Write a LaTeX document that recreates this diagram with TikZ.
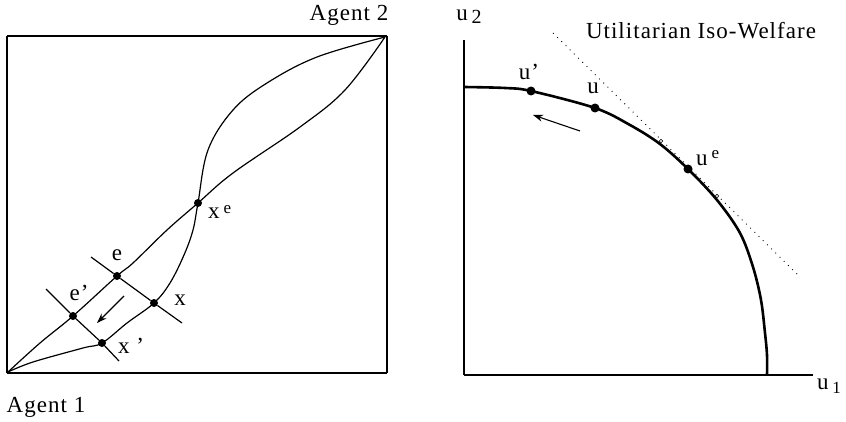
\documentclass[tikz,border=0pt]{standalone}
\usepackage{fontspec}
\setmainfont{Liberation Serif}[LetterSpace=4.5]
\usetikzlibrary{arrows.meta}
\begin{document}
\begin{tikzpicture}[x=1pt,y=-1pt,
  lbl/.style={inner sep=0pt,font=\fontsize{23}{26}\selectfont},
  dotnode/.style={circle,fill=black,inner sep=0pt,minimum size=8pt},
  bigdot/.style={circle,fill=black,inner sep=0pt,minimum size=9pt},
  opendot/.style={circle,draw=black,fill=white,inner sep=0pt,minimum size=3.5pt,line width=0.6pt},
  curve/.style={line width=1.2pt},
  frontier/.style={line width=2.6pt},
  arr/.style={line width=1.1pt,-{Stealth[length=10pt,width=7pt]}}]
\useasboundingbox (0,0) rectangle (846,422);

% ---------- left panel: Edgeworth box ----------
\draw[line width=1.1pt] (7,36) -- (7,373);
\draw[line width=1.1pt] (387,36) -- (387,373);
\draw[line width=2.2pt] (7,36) -- (387,36);
\draw[line width=2.2pt] (7,373) -- (387,373);

\coordinate (o1) at (8,372);
\coordinate (o2) at (385,37);
\node[dotnode] (ep) at (73,316) {};
\node[dotnode] (e) at (117,276) {};
\node[dotnode] (xe) at (198,203) {};
\node[dotnode] (xp) at (102,343) {};
\node[dotnode] (x) at (154,303) {};

% curve A (through e', e)
\draw[curve] plot[smooth,tension=0.6] coordinates
  {(o1) (40,343) (ep) (e) (133,263) (167,230) (xe) (233,173) (300,127) (345,90) (o2)};
% curve B (through x', x)
\draw[curve] plot[smooth,tension=0.6] coordinates
  {(o1) (33,362) (83,348) (xp) (127,323) (x) (170,283) (184,255) (193,230) (xe) (208,150) (233,110) (267,83) (317,57) (o2)};

% cross lines
\coordinate (l1a) at (91,257);
\coordinate (l1b) at (182,323);
\coordinate (l2a) at (46,289);
\coordinate (l2b) at (119,361);
\draw[curve] (l1a) -- (e) -- (x) -- (l1b);
\draw[curve] (l2a) -- (ep) -- (xp) -- (l2b);

% arrow
\coordinate (a1s) at (124,296);
\coordinate (a1e) at (97,323);
\draw[arr] (a1s) -- (a1e);

% labels
\node[lbl] (t2) at (349,15) {Agent 2};
\node[lbl] (t1) at (46,407) {Agent 1};
\node[lbl] (le) at (117,255) {e};
\node[lbl] (lep) at (79,293) {e’};
\node[lbl] (lx) at (180,300) {x};
\node[lbl] (lxp) at (131,346) {x ’};
\node[lbl,anchor=west] (lxe) at (208,212) {x\raisebox{0.55ex}{\,\fontsize{17}{19}\selectfont e}};

% ---------- right panel: utility frontier ----------
\coordinate (org) at (464,375);
\coordinate (ytop) at (464,40);
\coordinate (xend) at (813,375);
\draw[line width=1.3pt] (org) -- (ytop);
\draw[line width=2.2pt] (org) -- (xend);

\node[bigdot] (up) at (531,91) {};
\node[bigdot] (u) at (595,108) {};
\node[bigdot] (ue) at (688,169) {};

\draw[frontier] plot[smooth,tension=0.55] coordinates
  {(464,87) (505,88) (up) (u) (630,125) (660,144) (ue) (717,200) (740,233) (753,267) (761,300) (765,333) (767,355) (767,375)};

% dotted iso-welfare line
\coordinate (d1) at (553,33);
\coordinate (d2) at (800,277);
\draw[line width=0.9pt,dash pattern=on 0.9pt off 5pt] (d1) -- (d2);
\node[opendot] (c1) at (661,141) {};
\node[opendot] (c2) at (717,196) {};

% arrow
\coordinate (a2s) at (580,131);
\coordinate (a2e) at (533,115);
\draw[arr] (a2s) -- (a2e);

% labels
\node[lbl] (lu2) at (469,17) {u\raisebox{-0.3ex}{\,\fontsize{20}{22}\selectfont 2}};
\node[lbl] (lu1) at (829,386) {u\raisebox{-0.4ex}{\,\fontsize{17}{19}\selectfont 1}};
\node[lbl] (liso) at (701,31) {Utilitarian Iso-Welfare};
\node[lbl] (lup) at (529,72) {u’};
\node[lbl] (lu) at (593,88) {u};
\node[lbl,anchor=west] (lue) at (696,158) {u\raisebox{0.6ex}{\,\fontsize{17}{19}\selectfont e}};
\end{tikzpicture}
\end{document}
